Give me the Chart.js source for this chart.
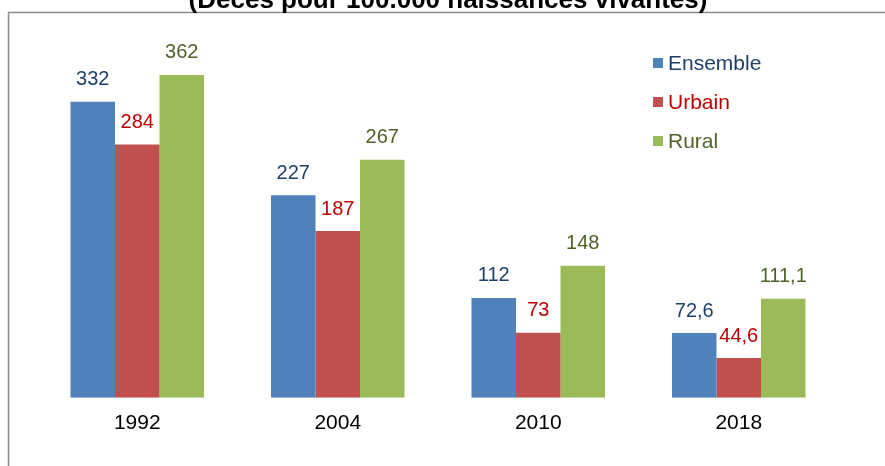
<!DOCTYPE html>
<html>
<head>
<meta charset="utf-8">
<script src="https://cdn.jsdelivr.net/npm/chart.js@4"></script>
<style>
    html, body { margin: 0; padding: 0; background: #fff; overflow: hidden; }
    #wrap { position: relative; width: 885px; height: 466px; }
</style>
</head>
<body>
<div id="wrap"><canvas id="mortChart" width="885" height="466"></canvas></div>
<script>
// Chart data
const years = ["1992", "2004", "2010", "2018"];
const seriesNames = ["Ensemble", "Urbain", "Rural"];
const ensemble = [332, 227, 112, 72.6];
const urbain = [284, 187, 73, 44.6];
const rural = [362, 267, 148, 111.1];
const titleText = "(Décès pour 100.000 naissances vivantes)";

const barColors = ["#4F81BD", "#C0504D", "#9BBB59"];
const textColors = ["#1F3F6B", "#C00000", "#4F6228"];
const FONT = "'Liberation Sans', Arial, sans-serif";

// frame, clipped title, value labels and legend
const decorPlugin = {
    id: "decor",
    beforeDraw(chart) {
        const c = chart.ctx;
        c.save();
        c.strokeStyle = "#8c8c8c";
        c.lineWidth = 1.5;
        c.beginPath();
        c.moveTo(8.5, 470);
        c.lineTo(8.5, 12.5);
        c.lineTo(890, 12.5);
        c.stroke();
        c.fillStyle = "#000";
        c.font = "bold 26px " + FONT;
        c.textAlign = "center";
        c.textBaseline = "alphabetic";
        c.fillText(titleText, 448, 8);
        c.restore();
    },
    afterDatasetsDraw(chart) {
        const c = chart.ctx;
        c.save();
        c.font = "20px " + FONT;
        c.textAlign = "center";
        c.textBaseline = "middle";
        chart.data.datasets.forEach((ds, i) => {
            chart.getDatasetMeta(i).data.forEach((bar, j) => {
                c.fillStyle = textColors[i];
                c.fillText(String(ds.data[j]).replace(".", ","), bar.x, bar.y - 22);
            });
        });
        // legend
        c.font = "21px " + FONT;
        c.textAlign = "left";
        chart.data.datasets.forEach((ds, i) => {
            const y = 63 + i * 39;
            c.fillStyle = barColors[i];
            c.fillRect(653, y - 5, 10, 10);
            c.fillStyle = textColors[i];
            c.fillText(ds.label, 668, y + 1);
        });
        c.restore();
    }
};

const ctx = document.getElementById("mortChart").getContext("2d");
const mortChart = new Chart(ctx, {
    type: "bar",
    data: {
        labels: years,
        datasets: [
            { label: seriesNames[0], data: ensemble, backgroundColor: barColors[0] },
            { label: seriesNames[1], data: urbain, backgroundColor: barColors[1] },
            { label: seriesNames[2], data: rural, backgroundColor: barColors[2] },
        ],
    },
    options: {
        responsive: false,
        animation: false,
        layout: {
            padding: { left: 37, right: 46, top: 41, bottom: 25 },
        },
        datasets: {
            bar: {
                categoryPercentage: 0.666,
                barPercentage: 1,
                borderWidth: 0,
            },
        },
        plugins: {
            legend: { display: false },
            tooltip: { enabled: false },
        },
        scales: {
            x: {
                grid: { display: false },
                border: { display: false },
                ticks: {
                    color: "#000",
                    padding: 5,
                    font: { family: FONT, size: 21 },
                },
            },
            y: {
                display: false,
                min: 0,
                max: 400,
            },
        },
    },
    plugins: [decorPlugin],
});
</script>
</body>
</html>
